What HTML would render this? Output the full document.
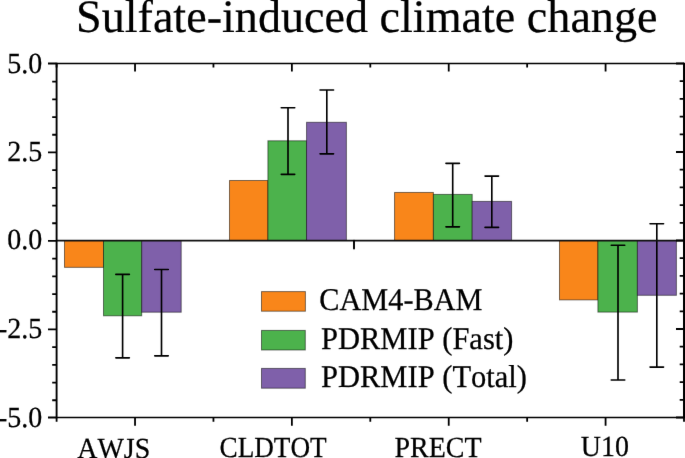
<!DOCTYPE html>
<html><head><meta charset="utf-8"><style>
html,body{margin:0;padding:0;background:#fff;}
body{width:685px;height:458px;overflow:hidden;}
svg text{stroke:#000;stroke-width:0.25px;}
svg text.t{stroke-width:0.22px;}
svg{display:block;will-change:transform;font-family:"Liberation Serif",serif;text-rendering:geometricPrecision;font-kerning:none;font-feature-settings:"kern" 0;}
</style></head><body>
<svg width="685" height="458" viewBox="0 0 685 458"><defs><filter id="b" color-interpolation-filters="sRGB" x="0" y="0" width="685" height="458" filterUnits="userSpaceOnUse"><feConvolveMatrix order="3" kernelMatrix="0.00276 0.04704 0.00276 0.04704 0.80077 0.04704 0.00276 0.04704 0.00276" edgeMode="duplicate"/></filter></defs><g filter="url(#b)"><rect width="685" height="458" fill="#fff"/>
<text class="t" transform="translate(76.0 32) scale(0.99 1)" font-size="46.6">Sulfate-induced climate change</text>
<g stroke="rgba(0,0,0,0.5)" stroke-width="1"><rect x="64.50" y="240.50" width="39.00" height="26.85" fill="#f9861a"/>
<rect x="103.50" y="240.50" width="38.20" height="75.30" fill="#4cb24c"/>
<rect x="141.70" y="240.50" width="39.50" height="71.70" fill="#7f60aa"/>
<rect x="229.50" y="180.50" width="38.40" height="60.00" fill="#f9861a"/>
<rect x="267.90" y="140.80" width="38.65" height="99.70" fill="#4cb24c"/>
<rect x="306.55" y="122.30" width="39.85" height="118.20" fill="#7f60aa"/>
<rect x="394.55" y="192.45" width="38.85" height="48.05" fill="#f9861a"/>
<rect x="433.40" y="194.40" width="38.80" height="46.10" fill="#4cb24c"/>
<rect x="472.20" y="201.40" width="39.40" height="39.10" fill="#7f60aa"/>
<rect x="559.50" y="240.50" width="38.40" height="59.40" fill="#f9861a"/>
<rect x="597.90" y="240.50" width="39.50" height="71.60" fill="#4cb24c"/>
<rect x="637.40" y="240.50" width="39.00" height="54.80" fill="#7f60aa"/></g>
<g stroke="#000" stroke-width="1.65" fill="none"><path d="M122.6 274.4V357.8"/><path d="M115.85 274.4H129.35M115.85 357.8H129.35" stroke-linecap="round"/>
<path d="M161.5 269.5V355.8"/><path d="M154.75 269.5H168.25M154.75 355.8H168.25" stroke-linecap="round"/>
<path d="M288.0 107.7V174.3"/><path d="M281.25 107.7H294.75M281.25 174.3H294.75" stroke-linecap="round"/>
<path d="M326.8 90.0V153.8"/><path d="M320.05 90.0H333.55M320.05 153.8H333.55" stroke-linecap="round"/>
<path d="M452.7 163.3V226.8"/><path d="M445.95 163.3H459.45M445.95 226.8H459.45" stroke-linecap="round"/>
<path d="M491.8 176.1V227.4"/><path d="M485.05 176.1H498.55M485.05 227.4H498.55" stroke-linecap="round"/>
<path d="M618.0 245.2V380.0"/><path d="M611.25 245.2H624.75M611.25 380.0H624.75" stroke-linecap="round"/>
<path d="M656.8 223.7V367.1"/><path d="M650.05 223.7H663.55M650.05 367.1H663.55" stroke-linecap="round"/></g>
<path d="M56.6 240.6H684" stroke="#111" stroke-width="1.8"/>
<path d="M354 240.6V248.6" stroke="#000" stroke-width="1.9" stroke-linecap="round"/>
<path d="M56.6 63.5H684M56.6 417.5H684" stroke="#000" stroke-width="1.7" fill="none"/>
<path d="M56.6 62.7V418.3" stroke="#000" stroke-width="1.9"/>
<path d="M684 62.7V418.3" stroke="#000" stroke-width="2"/>
<path d="M48.0 63.50H56.6M684 63.50H676.0M52.2 81.65H56.6M684 81.20H679.7M52.2 99.35H56.6M684 98.90H679.7M52.2 117.05H56.6M684 116.60H679.7M52.2 134.75H56.6M684 134.30H679.7M48.0 152.45H56.6M684 152.00H676.0M52.2 170.15H56.6M684 169.70H679.7M52.2 187.85H56.6M684 187.40H679.7M52.2 205.55H56.6M684 205.10H679.7M52.2 223.25H56.6M684 222.80H679.7M48.0 240.95H56.6M684 240.50H676.0M52.2 258.65H56.6M684 258.20H679.7M52.2 276.35H56.6M684 275.90H679.7M52.2 294.05H56.6M684 293.60H679.7M52.2 311.75H56.6M684 311.30H679.7M48.0 329.45H56.6M684 329.00H676.0M52.2 347.15H56.6M684 346.70H679.7M52.2 364.85H56.6M684 364.40H679.7M52.2 382.55H56.6M684 382.10H679.7M52.2 400.25H56.6M684 399.80H679.7M48.0 417.50H56.6M684 417.50H676.0M56.60 417.5V421.8M56.60 63.5V67.5M135.03 417.5V425.8M135.03 63.5V71.5M213.45 417.5V421.8M213.45 63.5V67.5M291.88 417.5V425.8M291.88 63.5V71.5M370.30 417.5V421.8M370.30 63.5V67.5M448.73 417.5V425.8M448.73 63.5V71.5M527.15 417.5V421.8M527.15 63.5V67.5M605.58 417.5V425.8M605.58 63.5V71.5M684.00 417.5V421.8M684.00 63.5V67.5" stroke="#000" stroke-width="1.8" fill="none"/>
<g font-size="29.2"><text transform="translate(42.3 72.6) scale(0.958 1)" text-anchor="end">5.0</text><text transform="translate(42.3 160.9) scale(0.958 1)" text-anchor="end">2.5</text><text transform="translate(42.3 249.1) scale(0.958 1)" text-anchor="end">0.0</text><text transform="translate(42.3 338.1) scale(0.958 1)" text-anchor="end">-2.5</text><text transform="translate(42.3 427.0) scale(0.958 1)" text-anchor="end">-5.0</text></g>
<g font-size="29.2" text-anchor="middle">
<text transform="translate(113.7 458.2) scale(0.958 1)">AWJS</text>
<text transform="translate(273.1 456.5) scale(0.9312 1)">CLDTOT</text>
<text transform="translate(438 456.7) scale(0.958 1)">PRECT</text>
<text transform="translate(604.8 456.3) scale(0.958 1)">U10</text>
</g>
<g stroke="rgba(0,0,0,0.5)" stroke-width="1">
<rect x="261.5" y="291.6" width="43.9" height="19.6" fill="#f9861a"/>
<rect x="261.5" y="330.4" width="43.8" height="19.6" fill="#4cb24c"/>
<rect x="261.5" y="368.4" width="43.8" height="19.8" fill="#7f60aa"/>
</g>
<g font-size="31.6">
<text transform="translate(319.3 310.2) scale(0.958 1)">CAM4-BAM</text>
<text transform="translate(321 348.6) scale(0.9657 1)">PDRMIP (Fast)</text>
<text transform="translate(321 386.9) scale(0.9657 1)">PDRMIP (Total)</text>
</g>
</g></svg>
</body></html>
